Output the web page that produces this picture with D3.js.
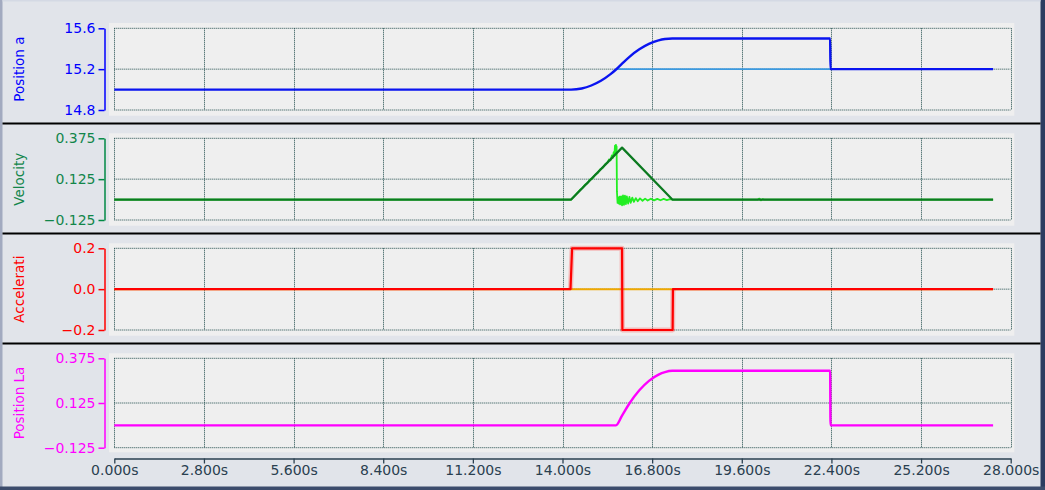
<!DOCTYPE html>
<html><head><meta charset="utf-8">
<script src="https://cdn.jsdelivr.net/npm/d3@7"></script>
<style>
html,body{margin:0;padding:0;background:#e1e4ea;}
svg{display:block;font-family:"DejaVu Sans",Verdana,sans-serif;}
</style></head><body>
<svg id="c" width="1045" height="490"></svg>
<script>
// ---- data ----
const xTicks = [0, 2.8, 5.6, 8.4, 11.2, 14.0, 16.8, 19.6, 22.4, 25.2, 28.0];
const panelTitles = ["Position a", "Velocity", "Accelerati", "Position La"];
const yTicksPos = [14.8, 15.2, 15.6];
const yTicksVel = [-0.125, 0.125, 0.375];
const yTicksAcc = [-0.2, 0.0, 0.2];
const yTicksLag = [-0.125, 0.125, 0.375];

const positionA = [[0,15.0],[14.27,15.0],[14.6,15.011],[14.9,15.040],[15.2,15.086],[15.5,15.151],[15.68,15.199],[15.86,15.253],[16.1,15.323],[16.4,15.394],[16.7,15.447],[17.0,15.482],[17.2,15.495],[17.43,15.5],[22.36,15.5],[22.37,15.2],[27.45,15.2]];
const positionTarget = [[15.68,15.2],[27.45,15.2]];

const velocityCmd = [[0,0],[14.27,0],[15.86,0.318],[17.43,0],[27.45,0]];
const velocityAct = [[0,0],[14.27,0],[14.45,0.038],[14.55,0.06],[14.62,0.07],[14.7,0.09],[14.78,0.1],[14.86,0.122],[14.94,0.13],[15.02,0.152],[15.1,0.162],[15.18,0.186],[15.26,0.195],[15.34,0.218],[15.4,0.225],[15.45,0.245],[15.5,0.24],[15.54,0.27],[15.57,0.255],[15.6,0.29],[15.62,0.27],[15.64,0.33],[15.66,0.29],[15.67,0.335],[15.68,0.3],[15.69,0.325],[15.70,0.05],[15.72,-0.02],[15.74,0.012],[15.76,-0.025],[15.78,0.018],[15.8,-0.03],[15.83,0.02],[15.86,-0.035],[15.89,0.026],[15.92,-0.032],[15.95,0.024],[15.98,-0.028],[16.01,0.02],[16.05,-0.025],[16.09,0.016],[16.13,-0.02],[16.18,0.012],[16.23,-0.014],[16.29,0.009],[16.35,-0.01],[16.42,0.007],[16.5,-0.007],[16.58,0.006],[16.66,-0.006],[16.76,0.005],[16.86,-0.005],[16.96,0.004],[17.06,-0.004],[17.16,0.004],[17.26,-0.003],[17.36,0.003],[17.45,0],[20.1,0],[20.15,0.006],[20.2,-0.005],[20.25,0.003],[20.3,0],[27.45,0]];

const accelCmd = [[0,0],[14.25,0],[14.3,0.2],[15.86,0.2],[15.87,-0.2],[17.44,-0.2],[17.45,0],[27.45,0]];
const accelPulse = [[14.25,0],[14.3,0.2],[15.86,0.2],[15.87,-0.2],[17.44,-0.2],[17.45,0]];
const accelAct = [[0,0],[27.45,0]];

const positionLag = [[0,0],[15.67,0],[15.86,0.055],[16.1,0.125],[16.4,0.196],[16.7,0.249],[17.0,0.284],[17.2,0.298],[17.43,0.305],[22.36,0.305],[22.37,0],[27.45,0]];

// ---- layout ----
const svg = d3.select("#c");
const X0 = 114.3, X1 = 1010.7;
const x = d3.scaleLinear().domain([0,28]).range([X0, X1]);

// frame
svg.append("rect").attr("x",0).attr("y",0).attr("width",1045).attr("height",490).attr("fill","#e1e4ea");
svg.append("rect").attr("x",0).attr("y",0).attr("width",2.5).attr("height",490).attr("fill","#a2aac0");
svg.append("rect").attr("x",1040.5).attr("y",0).attr("width",4.5).attr("height",490).attr("fill","#2c3c60");
svg.append("rect").attr("x",0).attr("y",486.5).attr("width",1045).attr("height",3.5).attr("fill","#3c4c6c");
svg.append("rect").attr("x",2.5).attr("y",0).attr("width",1038).attr("height",1.5).attr("fill","#d4d9e4");

const panels = [
  {ticks:yTicksPos, top:28.3, bot:110, bgTop:23, bgBot:115.7, color:"#0000ff", tcolor:"#0000ff", fmt:d3.format(".1f")},
  {ticks:yTicksVel, top:138.3, bot:220, bgTop:133.3, bgBot:225.7, color:"#008a44", tcolor:"#12864a", fmt:d3.format(".3f")},
  {ticks:yTicksAcc, top:248.3, bot:330, bgTop:243.3, bgBot:335.7, color:"#ff0000", tcolor:"#ff0000", fmt:d3.format(".1f")},
  {ticks:yTicksLag, top:358.3, bot:447.7, bgTop:353.3, bgBot:452.3, color:"#ff00ff", tcolor:"#ff00ff", fmt:d3.format(".3f")}
];

panels.forEach((p,i) => {
  p.y = d3.scaleLinear().domain([p.ticks[0], p.ticks[p.ticks.length-1]]).range([p.bot, p.top]);
  svg.append("rect").attr("x",109).attr("y",p.bgTop).attr("width",1014.3-109).attr("height",p.bgBot-p.bgTop).attr("fill","#efefef");
  const g = svg.append("g");
  // grid
  p.ticks.forEach(t => {
    g.append("line").attr("x1",X0).attr("x2",X1).attr("y1",p.y(t)).attr("y2",p.y(t))
      .attr("stroke","#1e4a4a").attr("stroke-width",1).attr("stroke-dasharray","1,1");
  });
  xTicks.forEach(t => {
    g.append("line").attr("x1",Math.round(x(t))+0.5).attr("x2",Math.round(x(t))+0.5).attr("y1",p.top).attr("y2",p.bot)
      .attr("stroke","#1e4a4a").attr("stroke-width",1).attr("stroke-dasharray","1,1");
  });
  // y axis
  const ax = svg.append("g").attr("transform","translate(104.5,0)")
    .call(d3.axisLeft(p.y).tickValues(p.ticks).tickFormat(p.fmt).tickSize(6).tickSizeOuter(0).tickPadding(3));
  ax.select(".domain").attr("stroke",p.color).attr("stroke-width",1.5);
  ax.selectAll(".tick line").attr("stroke",p.color).attr("stroke-width",1.5);
  ax.selectAll(".tick text").attr("fill",p.tcolor).attr("font-size",14).attr("font-family","DejaVu Sans, Verdana, sans-serif");
  // title
  svg.append("text").attr("transform",`translate(24,${(p.top+p.bot)/2}) rotate(-90)`)
    .attr("text-anchor","middle").attr("fill",p.tcolor).attr("font-size",13.5).text(panelTitles[i]);
});

// separators
[123.5, 233.5, 343.5].forEach(yy => {
  svg.append("line").attr("x1",2.5).attr("x2",1040.5).attr("y1",yy).attr("y2",yy).attr("stroke","#000").attr("stroke-width",2);
});

function draw(panel, data, color, width, curve, opacity) {
  const line = d3.line().x(d => x(d[0])).y(d => panel.y(d[1])).curve(curve || d3.curveLinear);
  svg.append("path").datum(data).attr("d",line).attr("fill","none").attr("stroke",color)
    .attr("stroke-width",width).attr("stroke-opacity",opacity==null?1:opacity).attr("stroke-linejoin","round");
}

// panel 1
draw(panels[0], positionTarget, "#3c9ae0", 1.8);
draw(panels[0], positionA, "#0a14f0", 2.4, d3.curveMonotoneX);
// panel 2
draw(panels[1], velocityAct, "#22ee22", 1.8);
draw(panels[1], velocityCmd, "#0c7a20", 2.2);
// panel 3
draw(panels[2], accelAct, "#f0a800", 2);
draw(panels[2], accelPulse, "#ff3a3a", 5, null, 0.3);
draw(panels[2], accelCmd, "#ff0000", 2.2);
// panel 4
draw(panels[3], positionLag, "#ff00ff", 2.4, d3.curveMonotoneX);

// x axis
const xa = svg.append("g").attr("transform","translate(0,458.5)")
  .call(d3.axisBottom(x).tickValues(xTicks).tickFormat(d => d3.format(".3f")(d)+"s").tickSize(5).tickSizeOuter(0).tickPadding(2));
xa.select(".domain").attr("stroke","#2a4050").attr("stroke-width",1.3);
xa.selectAll(".tick line").attr("stroke","#2a4050").attr("stroke-width",1.3);
xa.selectAll(".tick text").attr("fill","#2a4050").attr("font-size",14).attr("font-family","DejaVu Sans, Verdana, sans-serif");
</script>
</body></html>
